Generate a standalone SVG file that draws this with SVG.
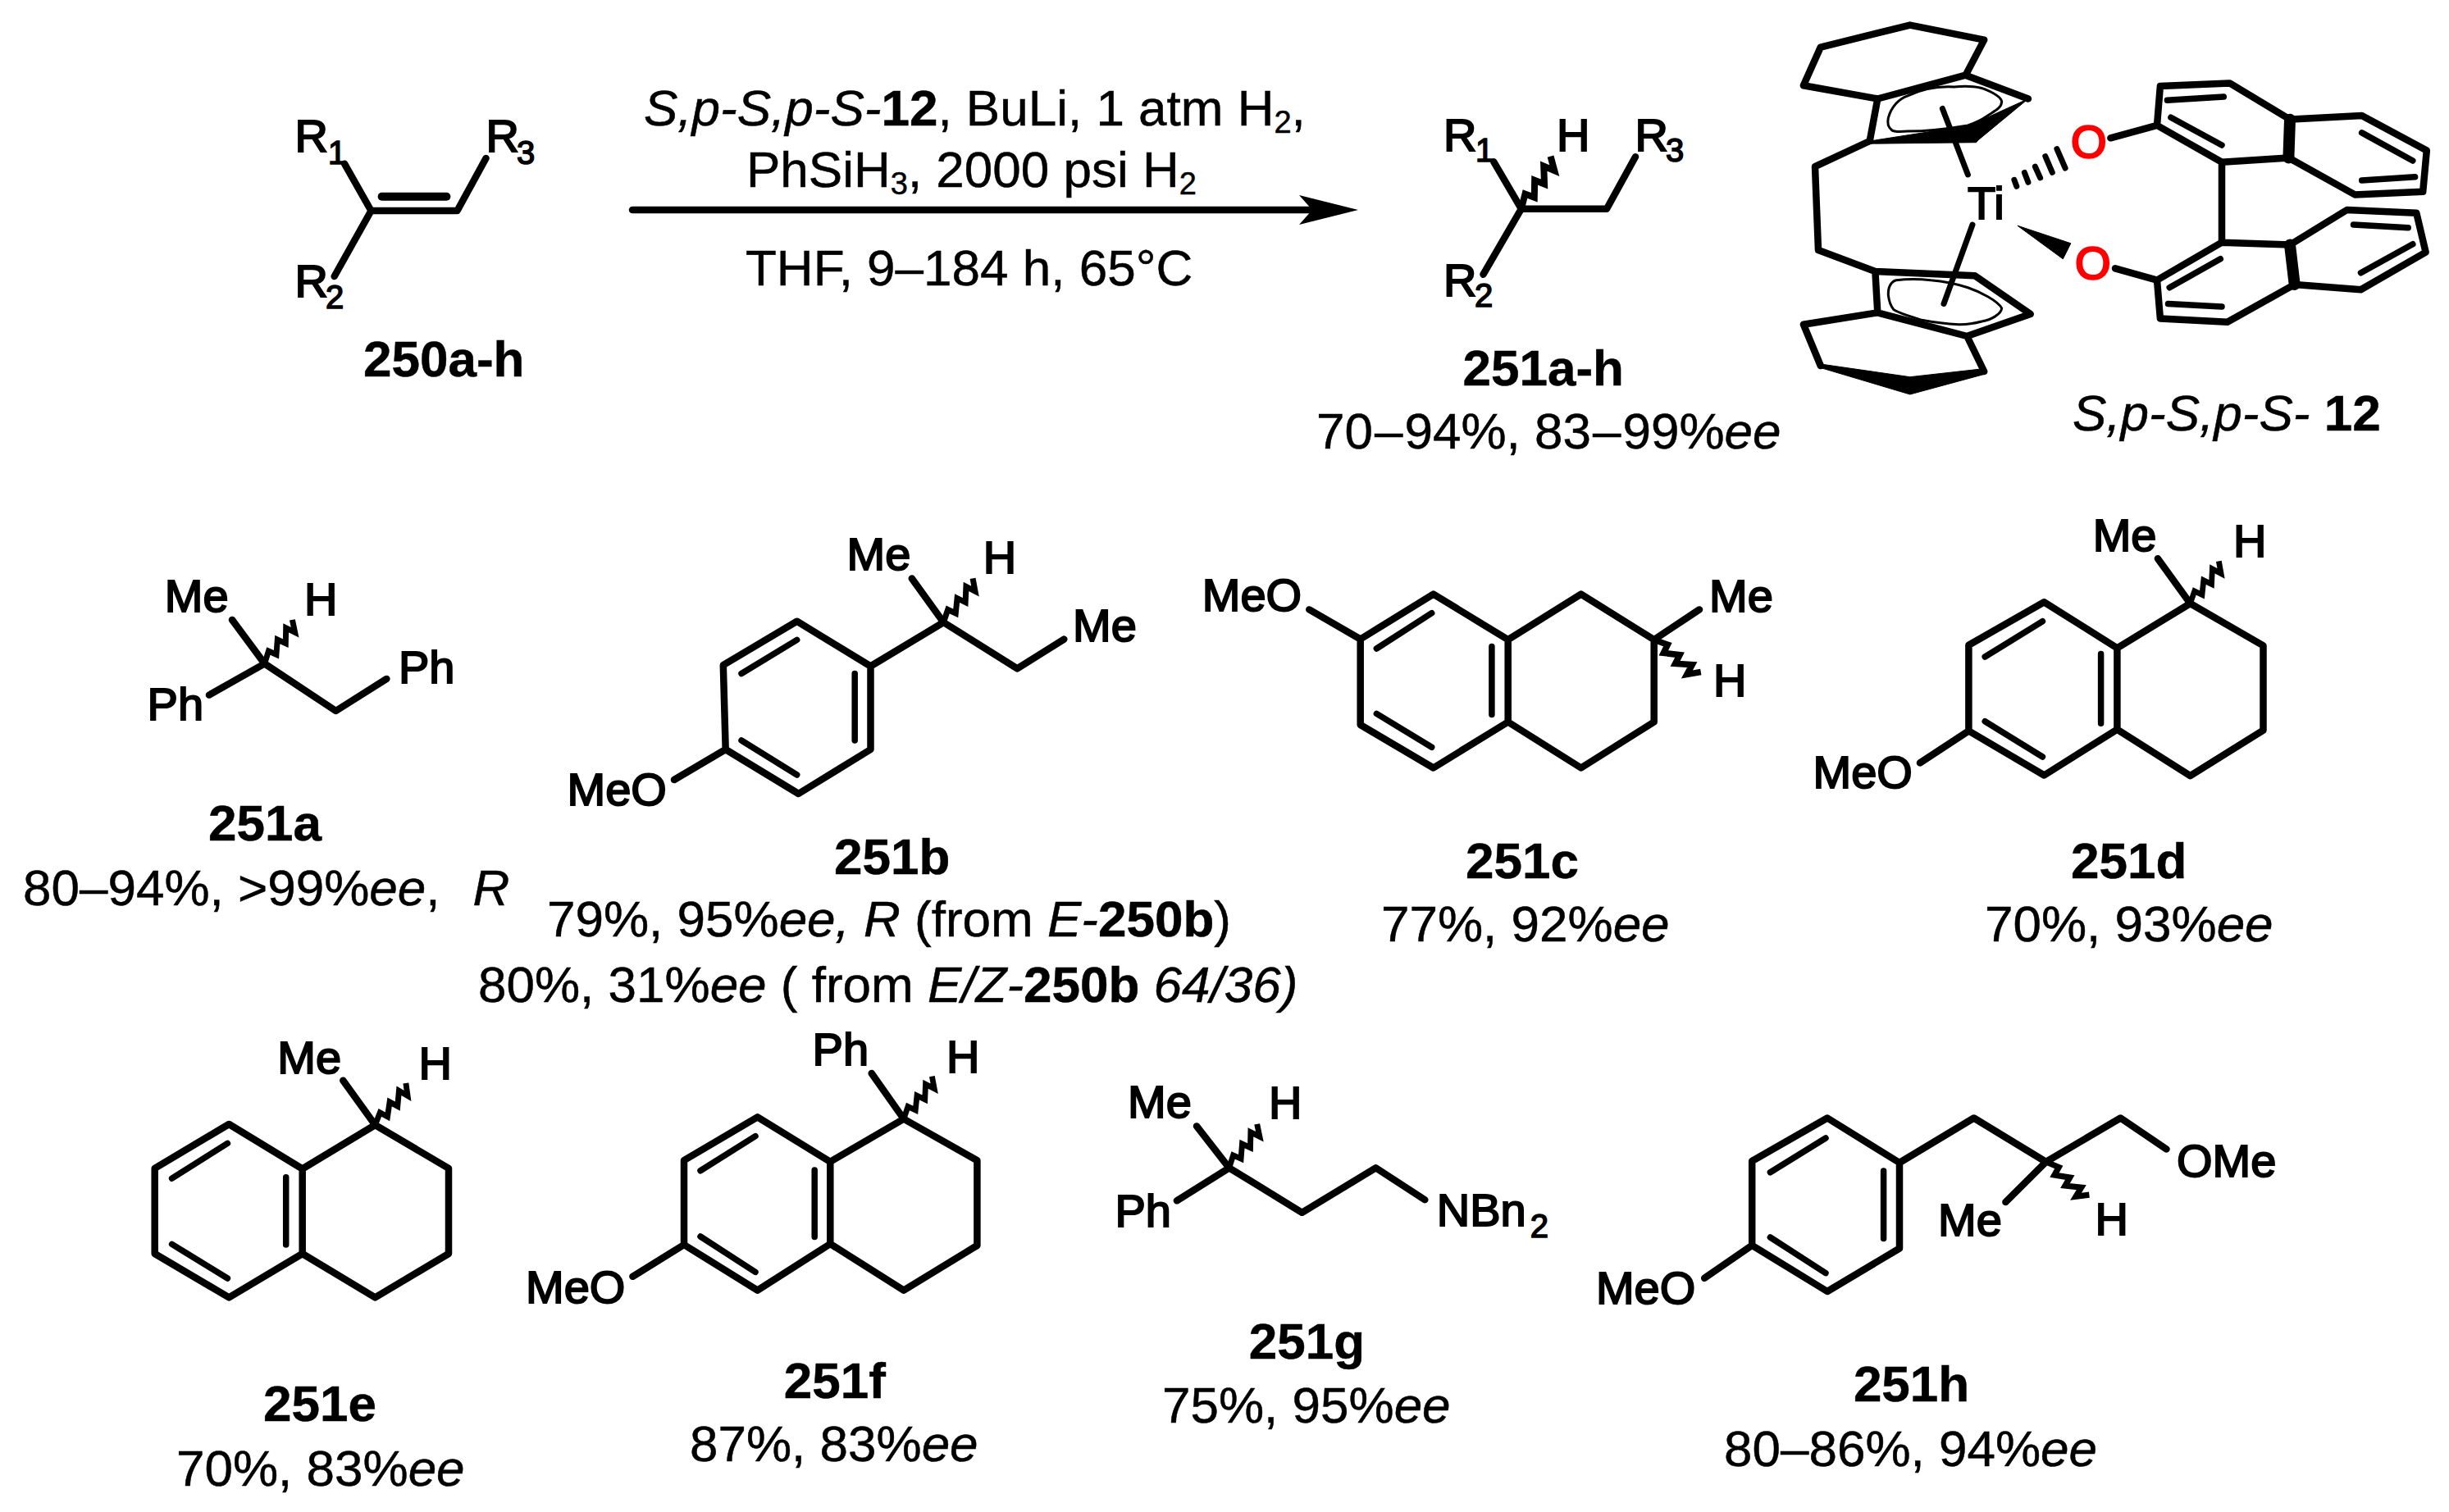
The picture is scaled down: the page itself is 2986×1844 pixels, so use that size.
<svg xmlns="http://www.w3.org/2000/svg" width="2986" height="1844" viewBox="0 0 2986 1844">
<style>
text{font-family:"Liberation Sans",Arial,sans-serif;fill:#000}
.c{font-size:62px;stroke:#000;stroke-width:.5}
.n{font-size:62px;font-weight:bold;stroke:#000;stroke-width:.5}
.l{font-size:56px;stroke:#000;stroke-width:2}
.s{font-size:40px;stroke:#000;stroke-width:1.6}
.o{font-size:56px;fill:#f00;stroke:#f00;stroke-width:2.5}
.i{font-style:italic}
.w{font-weight:bold}
.u{font-size:38px}
.b{fill:none;stroke:#000;stroke-width:8.5;stroke-linecap:round;stroke-linejoin:round}
.d{fill:none;stroke:#000;stroke-width:7.5;stroke-linecap:round}
.t{fill:none;stroke:#000;stroke-width:3}
.k{fill:none;stroke:#000;stroke-width:14;stroke-linecap:round}
.h{fill:none;stroke:#000;stroke-width:7;stroke-linecap:round}
.f{fill:#000;stroke:#000;stroke-width:1}
.wv{fill:none;stroke:#000;stroke-width:11;stroke-linejoin:miter}
</style>
<defs>
<path id="wavy" class="wv" d="M0 0 L24 -9 L28 7 L52 -9 L56 8 L80 -10 L84 9 L100 -10"/>
<marker id="head" markerUnits="userSpaceOnUse" markerWidth="72" markerHeight="40" viewBox="0 0 72 40" refX="16" refY="20" orient="auto">
<polygon points="0,2 72,20 0,38 16,20"/>
</marker>
</defs>
<rect width="2986" height="1844" fill="#fff"/>

<g id="connectors">
<line x1="771" y1="256" x2="1600" y2="256" stroke="#000" stroke-width="8.5" stroke-linecap="round" marker-end="url(#head)"/>
</g>

<g id="conditions" transform="translate(-6 -3)">
<text class="c" x="791" y="156"><tspan class="i">S,p-S,p-S-</tspan><tspan class="w">12</tspan>, BuLi, 1 atm H<tspan class="u" dy="9">2</tspan><tspan dy="-9">,</tspan></text>
<text class="c" x="916" y="231">PhSiH<tspan class="u" dy="9">3</tspan><tspan dy="-9">, 2000 psi H</tspan><tspan class="u" dy="9">2</tspan></text>
<text class="c" x="915" y="351">THF, 9–184 h, 65°C</text>
</g>

<g id="n250" transform="translate(-5 -2)">
<path class="b" d="M425 201.7L457.5 259H562.5L597.5 195M457.5 259L412.7 339"/>
<line class="b" style="stroke-width:10" x1="470.6" y1="241.7" x2="549.4" y2="241.7"/>
<text class="l" x="364.4" y="186.7">R</text><text class="s" x="405" y="201.7">1</text>
<text class="l" x="597.5" y="186.7">R</text><text class="s" x="635" y="201.7">3</text>
<text class="l" x="364.4" y="364">R</text><text class="s" x="402" y="378">2</text>
<text class="n" x="448" y="460.7">250a-h</text>
</g>

<g id="n251" transform="translate(-6 -2)">
<path class="b" d="M1827.3 199.3L1860.9 256.7H1965L2000 193.3M1860.9 256.7L1814.5 336.7"/>
<use href="#wavy" transform="translate(1860.9 256.7) rotate(-55.2) scale(.73)"/>
<text class="l" x="1766" y="186">R</text><text class="s" x="1805" y="199">1</text>
<text class="l" x="1904" y="186">H</text>
<text class="l" x="1999.5" y="186">R</text><text class="s" x="2037" y="199">3</text>
<text class="l" x="1766" y="362.7">R</text><text class="s" x="1804" y="376">2</text>
<text class="n" x="1789.5" y="471.7">251a-h</text>
<text class="c" x="1611" y="549">70<tspan dx="2">–</tspan><tspan dx="2">94</tspan>%, 83<tspan dx="2">–</tspan><tspan dx="2">99</tspan>%<tspan class="i">ee</tspan></text>
</g>

<g id="n12">
<path class="b" d="M2289.3 120.5L2198.9 104.3L2219.8 57.6L2328.8 30.6L2419.2 48.6L2396.6 91.7L2289.3 120.5L2279.7 172M2396.6 91.7L2472.9 120.5"/>
<polygon class="f" points="2279.7,172 2402.3,152.9 2433.3,138.5 2472.9,120.5 2411.9,170.9 2409.6,173.7 2280.8,175.2"/>
<path class="t" d="M2302.3 143.9C2306 130 2316 120 2326 116.9C2345 108 2365 105 2382.5 106.1C2400 104 2415 106 2422 109.7C2432 114 2440 119 2440.7 124.1C2440 133 2430 136 2422 142C2415 147 2408 150 2399.4 152.9C2375 157 2350 160 2326 160C2315 161 2309 161 2306.2 158.3C2302 155 2301 150 2302.3 143.9Z"/>
<path class="h" d="M2368.4 132.4L2399.4 213M2405 274L2370 370.5"/>
<path class="b" d="M2279.7 172L2213 203.2L2217 305L2286.4 331L2407.9 336.3L2475.7 383L2398.3 410L2289.3 381.3L2286.4 331M2289.3 381.3L2198.9 395.7L2219.8 446M2398.3 410L2419.2 453"/>
<polygon class="f" points="2219.8,444 2328.8,459.7 2419.2,449.6 2420.9,456 2328.8,481 2217.5,447.8"/>
<path class="t" d="M2302.3 359.7C2302 350 2306 343 2311.9 341.7C2325 340 2340 340 2354.2 341.7C2370 343 2385 346 2399.4 350.7C2415 356 2436 367 2440.7 375.9C2440 383 2428 390 2416.4 392C2405 395 2397 396 2388.1 395.7C2372 395 2357 393 2343 390.3C2330 386 2318 383 2309 377.7C2305 373 2303 366 2302.3 359.7Z"/>
<path class="h" d="M2455.9 219.4L2458.8 227.3M2468.4 210.4L2472.9 222.3M2481.4 203.2L2487.6 216.9M2493.8 190.6L2502.3 210.4M2507.9 181.7L2518.1 205"/>
<polygon class="f" points="2459.9,275.2 2524.9,296.8 2515.3,315.8"/>
<path class="b" d="M2573.4 168.3L2630 152.9L2633.9 105L2718.6 101.4L2792 145.7M2790.4 192.4L2709 197.8L2630 152.9M2792 145.7L2879.7 141L2958.8 183.5L2954.2 233.8L2871.2 237.4L2790.4 192.4M2709 197.8V295.7L2792 298.6M2797.7 347L2715.8 392.8L2633.9 388.5L2630 341.7L2709 295.7M2579 327.3L2630 341.7M2792 298.6L2861.6 256L2946.3 259.7L2957.6 307.6L2878.5 353.2L2797.7 347"/>
<path class="d" d="M2642.4 122.3L2711.3 118M2646.9 143.2L2709 177M2879.7 161.9L2941.8 196M2879.7 220L2944.6 215.8M2645.2 350.7L2707.3 315.8M2643.5 370.5L2709 374M2869.5 274L2936.2 277.7M2878.5 332.7L2941.8 297.8"/>
<path class="k" d="M2792 145.7L2790.4 192.4M2792 298.6L2797.7 347"/>
<text class="l" x="2399" y="267">Ti</text>
<text class="o" x="2525" y="192.4">O</text>
<text class="o" x="2530" y="340">O</text>
<text class="c" x="2527" y="525"><tspan class="i">S,p-S,p-S-</tspan> <tspan class="w">12</tspan></text>
</g>

<g id="n251a" transform="translate(-4 -2)">
<path class="b" d="M287 757.9L326.6 811.4L413.5 869L475.4 829.9M326.6 811.4L259 849.6"/>
<use href="#wavy" transform="translate(326.6 811.4) rotate(-52) scale(.63)"/>
<text class="l" x="204.8" y="748.4">Me</text>
<text class="l" x="374.9" y="751.7">H</text>
<text class="l" x="183.6" y="880">Ph</text>
<text class="l" x="489.9" y="834.8">Ph</text>
<text class="n" x="258" y="1027.4">251a</text>
<text class="c" x="32" y="1105.6">80–94%, &gt;99%<tspan class="i">ee</tspan>,<tspan class="i" dx="40">R</tspan></text>
</g>

<g id="n251b" transform="translate(-9 -3)">
<path class="b" d="M1120.8 708.5L1159.4 762L1249.3 818.4L1306.3 782.6M1159.4 762L1070.5 815.5L980.7 760.7L890.8 814.2L893.7 917L982.6 971L1070.5 917V815.5M893.7 917L831 954"/>
<path class="d" d="M913 824.5L980.7 783.4M1051.2 824.5V906M913 906L980.7 948"/>
<use href="#wavy" transform="translate(1159.4 762) rotate(-50.6) scale(.64)"/>
<text class="l" x="1041.5" y="698">Me</text>
<text class="l" x="1207.7" y="701.5">H</text>
<text class="l" x="1317" y="785.4">Me</text>
<text class="l" x="700.5" y="985.4">MeO</text>
<text class="n" x="1026" y="1068.6">251b</text>
<text class="c" x="676" y="1144.7">79%, 95%<tspan class="i">ee, R</tspan> (from <tspan class="i">E-</tspan><tspan class="w">250b</tspan>)</text>
<text class="c" x="592" y="1225">80%, 31%<tspan class="i">ee</tspan> ( from <tspan class="i">E/Z-</tspan><tspan class="w">250b</tspan> <tspan class="i">64/36)</tspan></text>
</g>

<g id="n251c" transform="translate(-4 -3)">
<path class="b" d="M1842.7 783.2L1751.7 727.6L1662.7 782.5V887L1751.7 939.5L1842.7 883.5V783.2L1931.7 727.6L2020.7 783.2V883.5L1931.7 939.5L1842.7 883.5M1662.7 782.5L1600.3 746.4M2020.7 783.2L2076 746.4"/>
<path class="d" d="M1682.4 794L1749.7 750.7M1682.4 873.4L1749.7 914.2M1822.9 791.5V874.5"/>
<use href="#wavy" transform="translate(2020.7 783.2) rotate(40.3) scale(.69)"/>
<text class="l" x="1469.8" y="748">MeO</text>
<text class="l" x="2088" y="749">Me</text>
<text class="l" x="2093" y="851.8">H</text>
<text class="n" x="1791" y="1073.8">251c</text>
<text class="c" x="1688" y="1150.7">77%, 92%<tspan class="i">ee</tspan></text>
</g>

<g id="n251d" transform="translate(-11 -3)">
<path class="b" d="M2592.4 793.3L2503.4 737.3L2411.4 789.7V894.4L2503.4 948.5L2592.4 892.6V793.3L2681.5 739L2770.5 790.4V893.6L2681.5 949.2L2592.4 892.6M2411.4 894.4L2352 933.4M2681.5 739L2641.9 684.3"/>
<path class="d" d="M2431.2 804L2501.4 760.8M2431.2 882.8L2501.4 926M2572.6 800.5V885.3"/>
<use href="#wavy" transform="translate(2681.5 739) rotate(-50.3) scale(.62)"/>
<text class="l" x="2562.7" y="674.9">Me</text>
<text class="l" x="2733.9" y="682">H</text>
<text class="l" x="2221.5" y="963.7">MeO</text>
<text class="n" x="2536" y="1073.8">251d</text>
<text class="c" x="2431" y="1150.7">70%, 93%<tspan class="i">ee</tspan></text>
</g>

<g id="n251e" transform="translate(-3 -2)">
<path class="b" d="M371.7 1427.5L282.2 1373L191.7 1426.8V1531L282.2 1584.4L371.7 1531V1427.5L460.4 1374L550 1426.8V1531L460.4 1584.4L371.7 1531M460.4 1374L421.3 1319.8"/>
<path class="d" d="M212.6 1439.2L280.4 1396.4M212.6 1519.4L280.4 1561M351.7 1437.7V1520"/>
<use href="#wavy" transform="translate(460.4 1374) rotate(-48) scale(.63)"/>
<text class="l" x="341.3" y="1311.2">Me</text>
<text class="l" x="513.5" y="1317.8">H</text>
<text class="n" x="324" y="1735.3">251e</text>
<text class="c" x="218" y="1814">70%, 83%<tspan class="i">ee</tspan></text>
</g>

<g id="n251f" transform="translate(-9 -3)">
<path class="b" d="M1021.3 1419.8L932.6 1365.3L843 1418.2V1521L932.6 1576.6L1021.3 1520V1419.8L1110.9 1367.6L1200.4 1418.2V1522L1110.9 1576.6L1021.3 1520M843 1521L780.4 1559.8M1110.9 1367.6L1071.7 1312"/>
<path class="d" d="M863 1430.7L930 1388.6M863 1511L930 1554.4M1002.2 1430V1511.6"/>
<use href="#wavy" transform="translate(1110.9 1367.6) rotate(-50.7) scale(.62)"/>
<text class="l" x="999.6" y="1302.3">Ph</text>
<text class="l" x="1163" y="1310.8">H</text>
<text class="l" x="650" y="1592">MeO</text>
<text class="n" x="964.8" y="1708">251f</text>
<text class="c" x="850" y="1784.7">87%, 83%<tspan class="i">ee</tspan></text>
</g>

<g id="n251g" transform="translate(-4 -3)">
<path class="b" d="M1463 1376.4L1502.7 1427.3L1591.5 1481.8L1681.4 1427.3L1741.3 1466.2M1502.7 1427.3L1438.9 1467.3"/>
<use href="#wavy" transform="translate(1502.7 1427.3) rotate(-51.8) scale(.63)"/>
<text class="l" x="1379" y="1366.2">Me</text>
<text class="l" x="1551" y="1367.3">H</text>
<text class="l" x="1363.5" y="1499">Ph</text>
<text class="l" x="1755.8" y="1498">NBn</text><text class="s" x="1869.8" y="1512">2</text>
<text class="n" x="1526.8" y="1660">251g</text>
<text class="c" x="1421" y="1738">75%, 95%<tspan class="i">ee</tspan></text>
</g>

<g id="n251h" transform="translate(-8 -3)">
<path class="b" d="M2324 1421L2236 1366.5L2144.2 1419V1521.8L2236 1578L2324 1525.5V1421L2414.7 1366.5L2502.6 1420L2593.5 1366.5L2649.5 1404.4M2144.2 1521.8L2086.2 1561.8M2502.6 1420L2453.4 1469"/>
<path class="d" d="M2166.4 1432.7L2234 1391M2166.4 1512L2234 1555.6M2304.6 1431V1513.5"/>
<use href="#wavy" transform="translate(2502.6 1420) rotate(43) scale(.66)"/>
<text class="l" x="2662" y="1438">OMe</text>
<text class="l" x="2371" y="1509.8">Me</text>
<text class="l" x="2562.6" y="1509">H</text>
<text class="l" x="1953.9" y="1592.7">MeO</text>
<text class="n" x="2267.9" y="1712">251h</text>
<text class="c" x="2110" y="1791">80–86%, 94%<tspan class="i">ee</tspan></text>
</g>
</svg>
